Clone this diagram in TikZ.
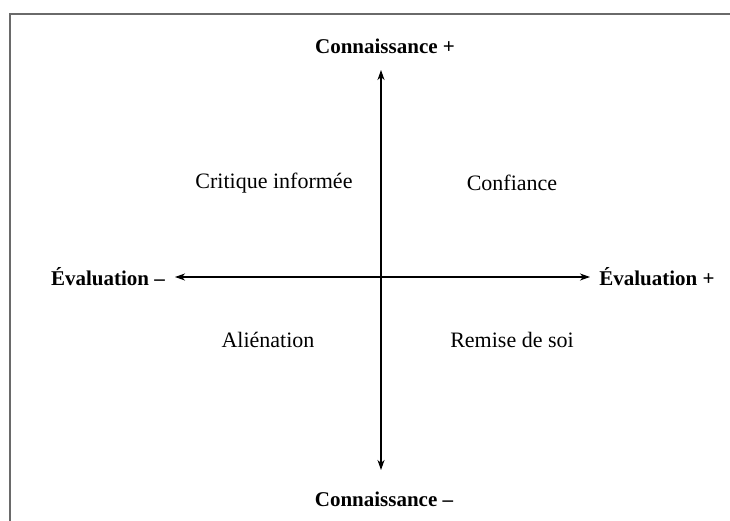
\documentclass[tikz,border=0pt]{standalone}
\usepackage{fontspec}
\setmainfont{Liberation Serif}
\usetikzlibrary{arrows.meta}
\definecolor{framegray}{HTML}{6A6A6A}
\begin{document}
\begin{tikzpicture}[x=1pt,y=-1pt,
  axis/.style={line width=1.1pt, {Stealth[length=10pt,width=7pt,inset=3pt]}-{Stealth[length=10pt,width=7pt,inset=3pt]}},
  pole/.style={font=\fontsize{21}{23}\selectfont\bfseries, inner sep=0pt},
  quad/.style={font=\fontsize{22}{24}\selectfont, inner sep=0pt}]
\useasboundingbox (0,0) rectangle (730,521);
\draw[framegray, line width=2pt] (10,521) -- (10,14) -- (730,14);
\node[pole] (ctop) at (385,46) {Connaissance +};
\node[pole] (cbot) at (384,499) {Connaissance –};
\node[pole] (eleft) at (108,277) {Évaluation –};
\node[pole] (eright) at (657,277) {Évaluation +};
\coordinate (vt) at (381,70);
\coordinate (vb) at (381,470);
\coordinate (hl) at (175,277);
\coordinate (hr) at (590,277);
\draw[axis] (vb) -- (vt);
\draw[axis] (hl) -- (hr);
\node[quad] (q1) at (274,183) {Critique informée};
\node[quad] (q2) at (512,183) {Confiance};
\node[quad] (q3) at (268,340) {Aliénation};
\node[quad] (q4) at (512,340) {Remise de soi};
\end{tikzpicture}
\end{document}
